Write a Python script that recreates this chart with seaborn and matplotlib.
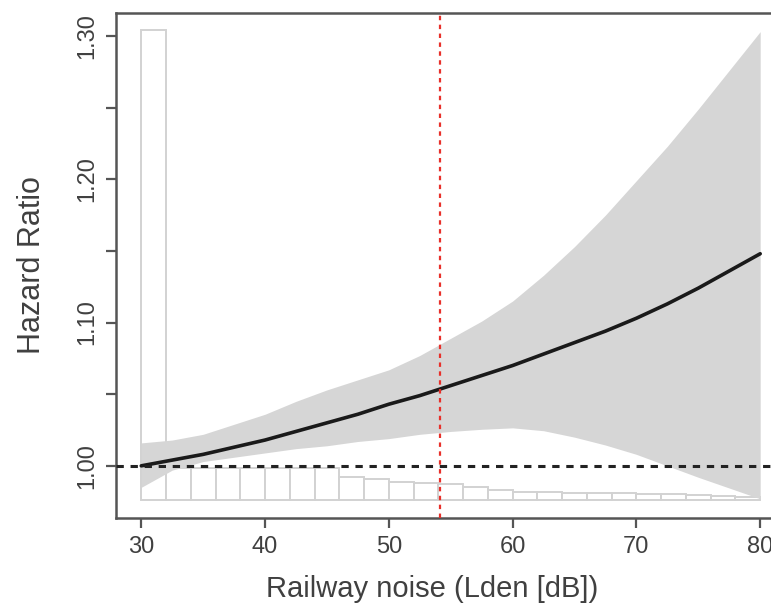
import matplotlib
matplotlib.use("Agg")
import matplotlib.pyplot as plt
import numpy as np
import pandas as pd
import seaborn as sns

# Exposure-response curve for railway noise (hazard ratio with 95% CI)
noise_db = [30, 32.5, 35, 37.5, 40, 42.5, 45, 47.5, 50, 52.5, 55,
            57.5, 60, 62.5, 65, 67.5, 70, 72.5, 75, 77.5, 80]
hr = [1.000, 1.004, 1.008, 1.013, 1.018, 1.024, 1.030, 1.036, 1.043, 1.049, 1.056,
      1.063, 1.070, 1.078, 1.086, 1.094, 1.103, 1.113, 1.124, 1.136, 1.148]
hr_upper = [1.016, 1.018, 1.022, 1.029, 1.036, 1.045, 1.053, 1.060, 1.067, 1.077, 1.089,
            1.101, 1.115, 1.133, 1.153, 1.175, 1.199, 1.223, 1.249, 1.276, 1.303]
hr_lower = [0.985, 0.997, 1.003, 1.006, 1.009, 1.012, 1.014, 1.017, 1.019, 1.022, 1.024,
            1.0255, 1.0265, 1.0245, 1.020, 1.0145, 1.008, 1.000, 0.992, 0.9845, 0.977]

# Exposure distribution (2 dB bins), drawn as bar tops on the HR scale
bin_left = list(range(30, 80, 2))
bin_top = [1.304, 0.9986, 0.9986, 0.9986, 0.9986, 0.9986, 0.9986, 0.9986,
           0.992, 0.991, 0.989, 0.988, 0.9875, 0.9854, 0.9833, 0.982, 0.982,
           0.9812, 0.9812, 0.981, 0.9805, 0.980, 0.9795, 0.979, 0.978]
hist_base = 0.9765

reference_hr = 1.00
median_exposure = 54.1

x_ticks = [30, 40, 50, 60, 70, 80]
y_ticks = [1.00, 1.05, 1.10, 1.15, 1.20, 1.25, 1.30]
y_ticklabels = ["1.00", "", "1.10", "", "1.20", "", "1.30"]

sns.set_theme(style="white")
plt.rcParams["font.family"] = ["Liberation Sans", "DejaVu Sans"]

fig = plt.figure(figsize=(7.71, 6.16), dpi=100)
ax = fig.add_axes([0.1511, 0.1591, 0.867, 0.8198])

# histogram of exposure
ax.bar(bin_left, [t - hist_base for t in bin_top], width=2, bottom=hist_base,
       align="edge", facecolor="white", edgecolor="#d2d2d2", linewidth=1.4, zorder=1)

# confidence band
ax.fill_between(noise_db, hr_lower, hr_upper, color="#d6d6d6", linewidth=0, zorder=2)

# point estimate
df = pd.DataFrame({"noise": noise_db, "hr": hr})
sns.lineplot(data=df, x="noise", y="hr", ax=ax, color="#1a1a1a", linewidth=2.6, zorder=4)

ax.axhline(reference_hr, color="#222222", linestyle=(0, (2.4, 2.2)), linewidth=2.2, zorder=5)
ax.axvline(median_exposure, color="#e8302a", linestyle=(0, (2, 2)), linewidth=1.6, zorder=6)

ax.set_xlim(28, 82)
ax.set_ylim(0.9636, 1.3160)
ax.set_xticks(x_ticks)
ax.set_yticks(y_ticks)
ax.set_yticklabels(y_ticklabels, rotation=90, va="center")

for s in ax.spines.values():
    s.set_color("#555555")
    s.set_linewidth(1.8)

ax.tick_params(axis="both", direction="out", length=7, width=1.6, color="#555555",
               labelsize=17, labelcolor="#404040", pad=6, bottom=True, left=True)

ax.set_xlabel("Railway noise (Lden [dB])", fontsize=21, color="#404040")
ax.set_ylabel("Hazard Ratio", fontsize=22, color="#404040")
ax.xaxis.set_label_coords(0.472, -0.112)
ax.yaxis.set_label_coords(-0.104, 0.5)

fig.savefig("out.png", dpi=100)
